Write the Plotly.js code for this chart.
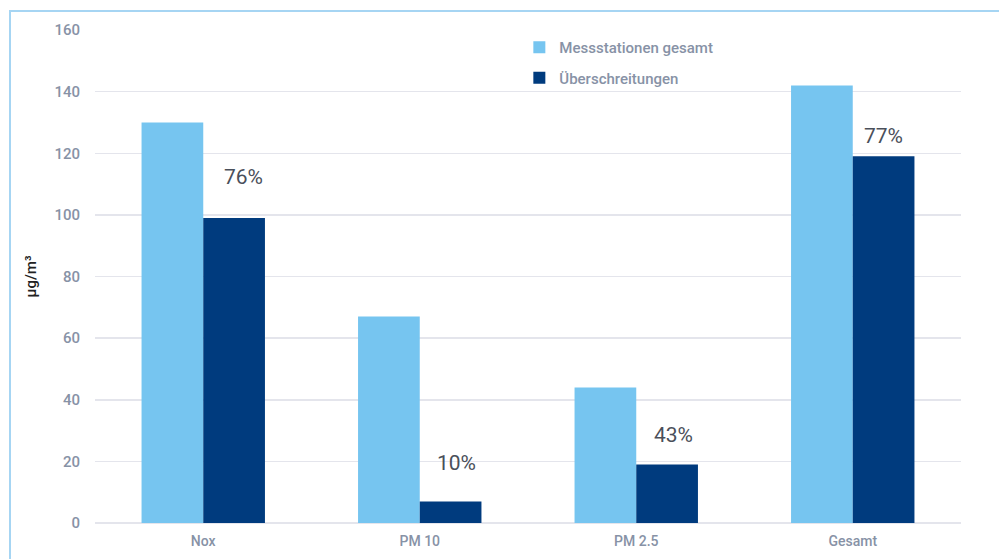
<!DOCTYPE html>
<html><head><meta charset="utf-8">
<script src="https://cdn.plot.ly/plotly-3.0.1.min.js"></script>
<style>
body{margin:0;padding:0;background:#fff;}
#wrap{position:relative;width:999px;height:559px;}
#chart{position:absolute;left:0;top:0;width:999px;height:559px;}
#frame{position:absolute;left:9px;top:10px;width:990px;height:549px;border-left:2px solid #a6d5f3;border-top:2px solid #a6d5f3;pointer-events:none;box-sizing:border-box;}
</style></head>
<body>
<div id="wrap"><div id="chart"></div><div id="frame"></div></div>
<script>
const categories = ["Nox", "PM 10", "PM 2.5", "Gesamt"];
const messstationen = [130, 67, 44, 142];
const ueberschreitungen = [99, 7, 19, 119];
const percentLabels = ["76%", "10%", "43%", "77%"];
const yTicks = [0, 20, 40, 60, 80, 100, 120, 140, 160];

const tickColor = "#8792a6";
const fontFam = "Roboto, 'Open Sans', sans-serif";
const labelYShift = [41, 38, 29, 20];
const labelXShift = [40, 37, 37, 31];

const traces = [
  {type:"bar", name:"Messstationen gesamt", x:categories, y:messstationen,
   marker:{color:"#76c5f0"}, legendgroup:"a", hoverinfo:"y"},
  {type:"bar", name:"Überschreitungen", x:categories, y:ueberschreitungen,
   marker:{color:"#003b7e"}, legendgroup:"b", hoverinfo:"y"}
];

const annotations = categories.map((c,i)=>({
  x:c, y:ueberschreitungen[i], xref:"x", yref:"y", text:percentLabels[i],
  showarrow:false, xshift:labelXShift[i], yshift:labelYShift[i],
  font:{family:fontFam, size:21, color:"#4a4f5a"}
}));

const layout = {
  width:999, height:559,
  margin:{l:95, r:38, t:30, b:36},
  paper_bgcolor:"#fff", plot_bgcolor:"#fff",
  barmode:"group", bargap:0.43, bargroupgap:0,
  font:{family:fontFam, color:tickColor},
  xaxis:{type:"category", showgrid:false, zeroline:false, showline:false,
    ticks:"", ticklabelstandoff:8,
    tickfont:{family:fontFam, size:14, color:tickColor, weight:500}},
  yaxis:{range:[0,160], tickvals:yTicks, ticktext:yTicks.map(String),
    showgrid:true, gridcolor:"#e4e5ec", gridwidth:1.5,
    zeroline:true, zerolinecolor:"#e4e5ec", zerolinewidth:1.5,
    showline:false, ticks:"", ticklabelstandoff:14,
    tickfont:{family:fontFam, size:15, color:tickColor, weight:500},
    title:{text:"µg/m³", standoff:14, font:{family:fontFam, size:15, color:"#222", weight:500}}},
  legend:{x:0.49, y:0.998, xanchor:"left", yanchor:"top", bgcolor:"rgba(0,0,0,0)",
    traceorder:"grouped", tracegroupgap:8, itemwidth:30,
    font:{family:fontFam, size:15, color:tickColor, weight:500}},
  showlegend:true,
  annotations:annotations
};

Plotly.newPlot("chart", traces, layout, {displayModeBar:false, staticPlot:true});
</script>
</body></html>
